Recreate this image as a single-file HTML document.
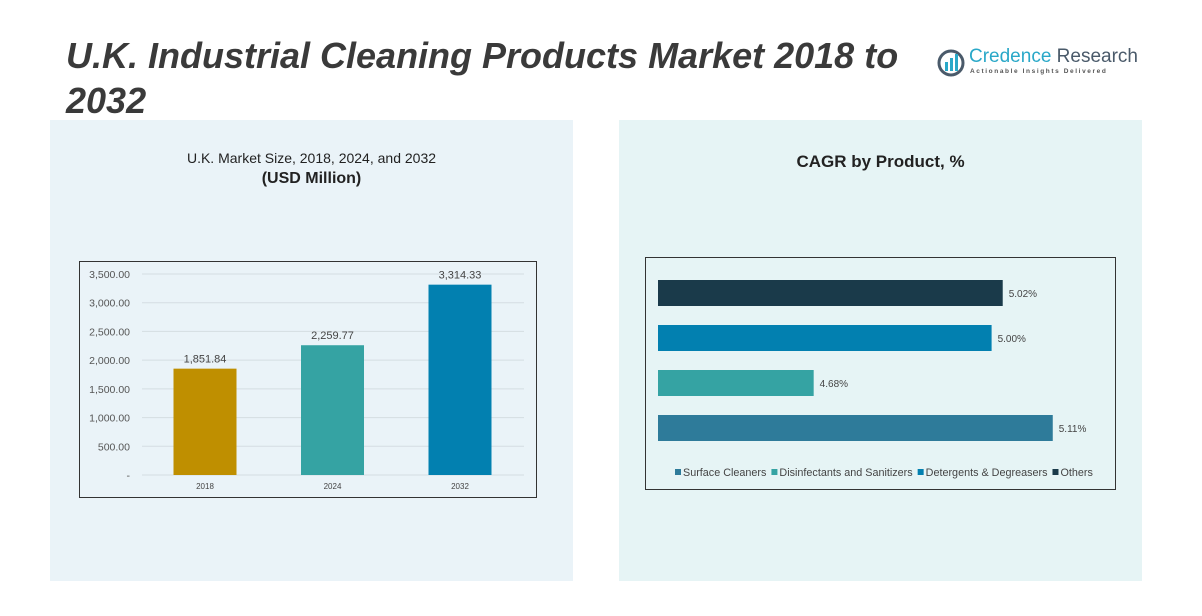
<!DOCTYPE html>
<html><head><meta charset="utf-8"><style>
body{margin:0;width:1202px;height:616px;background:#fff;font-family:"Liberation Sans",sans-serif;position:relative;overflow:hidden}
.abs{position:absolute}
</style></head><body>
<div class="abs" style="left:50px;top:120px;width:523px;height:461px;background:#eaf3f8"></div>
<div class="abs" style="left:619px;top:120px;width:523px;height:461px;background:#e6f4f5"></div>
<div class="abs" style="left:66px;top:33px;width:870px;font-size:36px;line-height:45px;font-weight:bold;font-style:italic;color:#3a3a3a">U.K. Industrial Cleaning Products Market 2018 to 2032</div>
<div class="abs" style="left:937px;top:46px;width:190px;height:34px">
<svg width="30" height="30" style="position:absolute;left:0;top:2px"><circle cx="14" cy="15" r="12" fill="none" stroke="#4a5a6a" stroke-width="3"/><rect x="8" y="14" width="3" height="9" fill="#2aa8c8"/><rect x="13" y="10" width="3" height="13" fill="#2aa8c8"/><rect x="18" y="6" width="3" height="17" fill="#2aa8c8"/></svg>
<div class="abs" style="left:32px;top:0;font-size:19px;color:#2aa8c8;white-space:nowrap">Credence <span style="color:#4a5a6a">Research</span></div>
<div class="abs" style="left:33px;top:22px;font-size:6.5px;letter-spacing:1.6px;color:#555;white-space:nowrap;font-weight:bold">Actionable Insights Delivered</div>
</div>
<div class="abs" style="left:50px;top:150px;width:523px;text-align:center;font-size:14px;color:#222">U.K. Market Size, 2018, 2024, and 2032<br><b style="font-size:16px;line-height:26px">(USD Million)</b></div>
<div class="abs" style="left:619px;top:152px;width:523px;text-align:center;font-size:17px;font-weight:bold;color:#222">CAGR by Product, %</div>
<svg id="chart" class="abs" style="left:0;top:0" width="1202" height="616"></svg>
<script>
const years=["2018","2024","2032"];
const sizes=[1851.84,2259.77,3314.33];
const sizeLabels=["1,851.84","2,259.77","3,314.33"];
const yTicks=[0,500,1000,1500,2000,2500,3000,3500];
const yTickLabels=["-","500.00","1,000.00","1,500.00","2,000.00","2,500.00","3,000.00","3,500.00"];
const products=["Others","Detergents & Degreasers","Disinfectants and Sanitizers","Surface Cleaners"];
const cagr=[5.02,5.00,4.68,5.11];
const cagrLabels=["5.02%","5.00%","4.68%","5.11%"];
const legendOrder=["Surface Cleaners","Disinfectants and Sanitizers","Detergents & Degreasers","Others"];
const NS="http://www.w3.org/2000/svg";
const svg=document.getElementById('chart');
function mk(t,a,p){const e=document.createElementNS(NS,t);for(const k in a)e.setAttribute(k,a[k]);(p||svg).appendChild(e);return e;}
function txt(x,y,s,sz,anchor,fill){const e=mk('text',{x:x,y:y,'font-size':sz,'text-anchor':anchor,fill:fill||'#444','font-family':'Liberation Sans, sans-serif'});e.textContent=s;return e;}
mk('rect',{x:79.5,y:261.5,width:457,height:236,fill:'none',stroke:'#333','stroke-width':1});
const y0=475,y1=274;const ys=v=>y0-(v/3500)*(y0-y1);
const xs=i=>205+i*127.5;
yTicks.forEach((t,i)=>{const g=mk('line',{x1:142,x2:524,y1:ys(t),y2:ys(t),stroke:'#d4dde2','stroke-width':1});

const l=txt(130,ys(t)+4,yTickLabels[i],10.5,'end','#555');});
const cols=['#bf8f00','#35a3a3','#0280b0'];
sizes.forEach((v,i)=>{const b=mk('rect',{x:xs(i)-31.5,y:ys(v),width:63,height:y0-ys(v),fill:cols[i]});

const l=txt(xs(i),ys(v)-6,sizeLabels[i],11,'middle','#444');
const x=txt(xs(i),489,years[i],8,'middle','#444');});
mk('rect',{x:645.5,y:257.5,width:470,height:232,fill:'none',stroke:'#333','stroke-width':1});
const xmin=4.4,x0=658,ppu=556;const xr=v=>x0+(v-xmin)*ppu;
const hcols=['#1a3a4a','#0280b0','#35a3a3','#2e7b9a'];
cagr.forEach((v,i)=>{const y=280+i*45;const b=mk('rect',{x:x0,y:y,width:xr(v)-x0,height:26,fill:hcols[i]});

const l=txt(xr(v)+6,y+17,cagrLabels[i],10,'start','#444');});
const lcols={"Surface Cleaners":'#2e7b9a',"Disinfectants and Sanitizers":'#35a3a3',"Detergents & Degreasers":'#0280b0',"Others":'#1a3a4a'};
let lx=675;
legendOrder.forEach(n=>{const s=mk('rect',{x:lx,y:469,width:6,height:6,fill:lcols[n]});

const t=txt(lx+8,476,n,10.8,'start','#444');
lx+=8+t.getComputedTextLength()+5;});
</script>
</body></html>
